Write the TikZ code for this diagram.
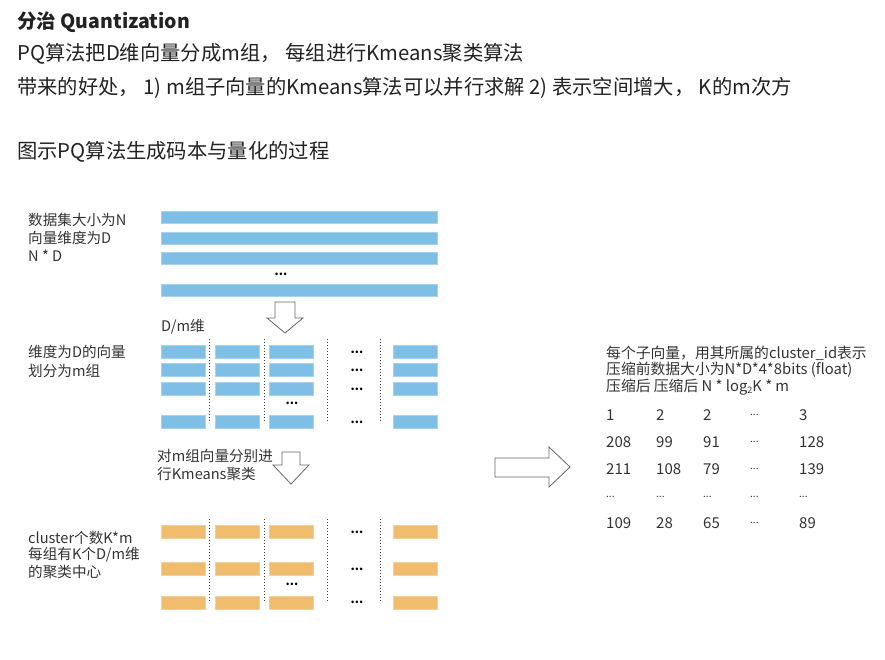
\documentclass[tikz,border=0pt]{standalone}
\usepackage{fontspec}
\setmainfont{Noto Sans CJK SC}
\usetikzlibrary{calc}
\definecolor{barblue}{HTML}{7FBFE6}
\definecolor{barorange}{HTML}{F0BC6E}
\definecolor{txt}{HTML}{222222}
\definecolor{dtxt}{HTML}{333333}
\newcommand\myel{{\fontsize{10}{10}\selectfont ...}}
\begin{document}
\begin{tikzpicture}[x=1pt,y=-1pt,
  head/.style={anchor=west,inner sep=0pt,text=txt,font=\fontsize{20.3}{22}\selectfont},
  lab/.style={anchor=west,inner sep=0pt,text=dtxt,font=\fontsize{14.6}{16}\selectfont},
  rlab/.style={anchor=west,inner sep=0pt,text=dtxt,font=\fontsize{14.8}{16}\selectfont},
  tab/.style={anchor=west,inner sep=0pt,text=dtxt,font=\fontsize{15}{16}\selectfont},
  bbar/.style={fill=barblue,draw=barblue!70!white,line width=0.4pt},
  obar/.style={fill=barorange,draw=barorange!70!white,line width=0.4pt},
  sep/.style={draw=black!75,dotted,line width=1pt},
  dots/.style={inner sep=0pt,text=black,font=\fontsize{12}{12}\selectfont\bfseries},
  hollow/.style={draw=black!60,line width=0.8pt,fill=white,line join=miter}]
\useasboundingbox (0,0) rectangle (885,659);
% header
\node[head,font=\fontsize{19.5}{20}\selectfont\bfseries] (title) at (17,22) {分治 Quantization};
\node[head] (l1) at (17,54) {PQ算法把D维向量分成m组， 每组进行Kmeans聚类算法};
\node[head] (l2) at (17,88) {带来的好处， 1) m组子向量的Kmeans算法可以并行求解 2) 表示空间增大， K的m次方};
\node[head] (l3) at (17,152) {图示PQ算法生成码本与量化的过程};
% top section labels
\node[lab] (a1) at (28,220) {数据集大小为N};
\node[lab] (a2) at (28,238) {向量维度为D};
\node[lab] (a3) at (28,256) {N * D};
% full bars
\foreach \y in {211,232,252,284} \fill[bbar] (161,\y) rectangle (437,\y+12);
\node[dots] (d0) at (281,274) {...};
% arrow 1
\draw[hollow] (275,302) -- (295,302) -- (295,318) -- (303,318) -- (285,333) -- (267,318) -- (275,318) -- cycle;
\node[lab] (dm) at (161,327) {D/m维};
% split section
\node[lab] (b1) at (28,352) {维度为D的向量};
\node[lab] (b2) at (28,371) {划分为m组};
\foreach \x in {209,264,327,380} \draw[sep] (\x,339) -- (\x,423);
\foreach \x/\w in {161/44,215/44,269/44,393/44}
  \foreach \y in {345,363,382,415} \fill[bbar] (\x,\y) rectangle (\x+\w,\y+13);
\foreach \y in {352,370,389,422} \node[dots] at (357,\y) {...};
\node[dots] (d1) at (292,403) {...};
% arrow 2
\node[lab,anchor=west] (c1) at (157,456) {对m组向量分别进};
\node[lab,anchor=west] (c2) at (157,474) {行Kmeans聚类};
\draw[hollow] (282,452) -- (300,452) -- (300,465) -- (309,465) -- (291,484) -- (273,465) -- (282,465) -- cycle;
% orange section
\node[lab] (e1) at (28,538) {cluster个数K*m};
\node[lab] (e2) at (28,555) {每组有K个D/m维};
\node[lab] (e3) at (28,572) {的聚类中心};
\foreach \x in {209,264,327,380} \draw[sep] (\x,519) -- (\x,602);
\foreach \x/\w in {161/44,215/44,269/44,393/44}
  \foreach \y in {525,562,596} \fill[obar] (\x,\y) rectangle (\x+\w,\y+13);
\foreach \y in {532,569,602} \node[dots] at (357,\y) {...};
\node[dots] (d2) at (292,584) {...};
% right arrow
\draw[hollow] (495,458) -- (549,458) -- (549,447) -- (570,467) -- (549,487) -- (549,477) -- (495,477) -- cycle;
% right text
\node[rlab] (r1) at (606,353) {每个子向量，用其所属的cluster\_id表示};
\node[rlab] (r2) at (606,370) {压缩前数据大小为N*D*4*8bits (float)};
\node[rlab] (r3) at (606,387) {压缩后 压缩后 N * log\raisebox{-0.2ex}{\fontsize{9}{9}\selectfont 2}K * m};
\foreach \row/\y in {{1,2,2,\myel,3}/415,{208,99,91,\myel,128}/442,{211,108,79,\myel,139}/469,{\myel,\myel,\myel,\myel,\myel}/497,{109,28,65,\myel,89}/523}{
  \foreach \v [count=\i] in \row {
    \pgfmathsetmacro{\xx}{{606,656,703,750,799}[\i-1]}
    \node[tab] at (\xx,\y) {\v};
  }
}
\end{tikzpicture}
\end{document}
